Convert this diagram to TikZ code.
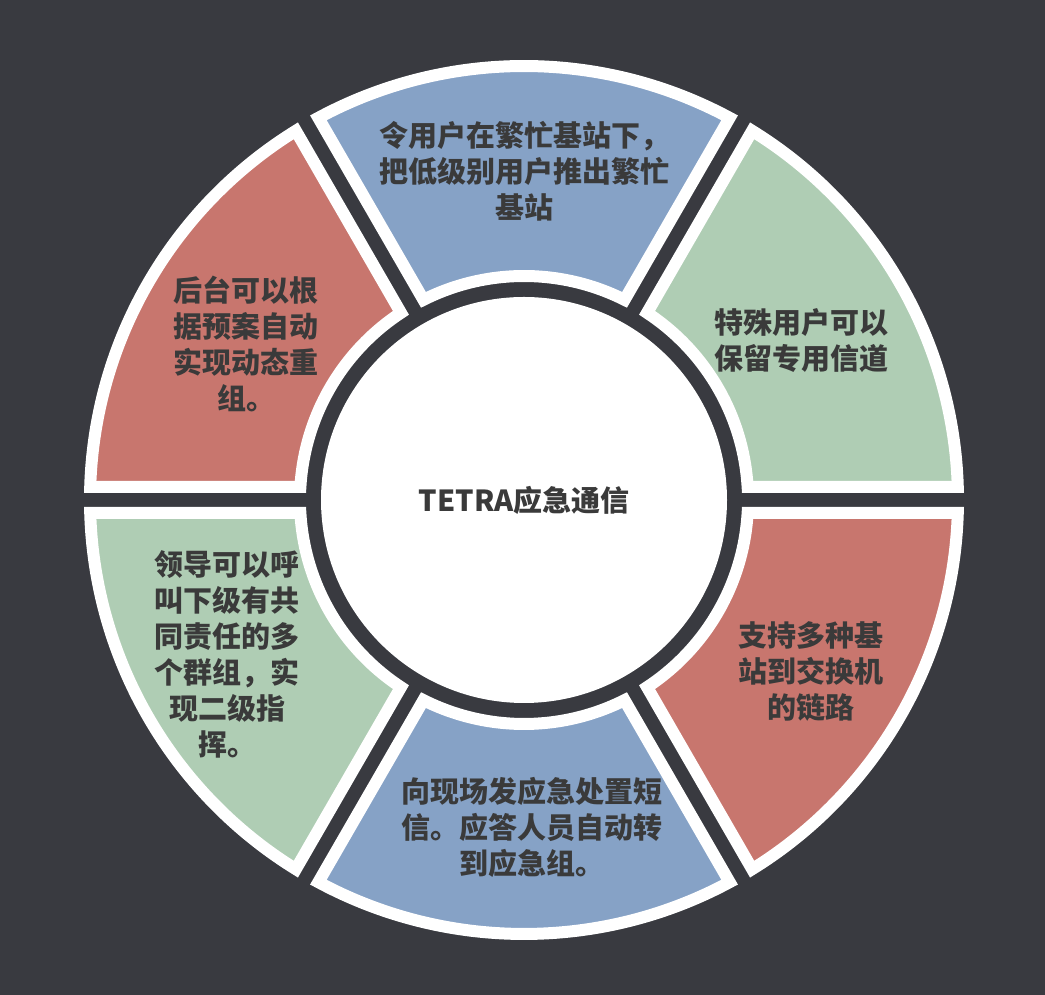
\documentclass[tikz,border=0pt]{standalone}
\usepackage{fontspec}
\setmainfont{Noto Sans CJK SC}
\usepackage{tikz}
\usetikzlibrary{positioning}
\definecolor{bgdark}{HTML}{393A40}
\definecolor{segblue}{HTML}{86A2C6}
\definecolor{segreen}{HTML}{AFCDB4}
\definecolor{segred}{HTML}{C8766E}
\definecolor{txtgray}{HTML}{3A3A3A}
\tikzset{
  seg/.style={draw=white,line width=12pt,line join=miter},
  lbl/.style={font=\fontsize{29}{36}\selectfont\bfseries,text=txtgray,align=center,inner sep=0pt},
  hubnode/.style={circle,fill=white,minimum size=406pt,inner sep=0pt},
}

\begin{document}
\begin{tikzpicture}[x=1pt,y=1pt]
  \fill[bgdark] (0,0) rectangle (1045,995);
  \useasboundingbox (0,0) rectangle (1045,995);
  \coordinate (c) at (524,495);
  \def\ri{224}
  \def\ro{434}
  \def\h{13}
  % ring segments
  \begin{scope}[shift={(c)}]
    \foreach \a/\col in {0/segreen,60/segblue,120/segred,180/segreen,240/segblue,300/segred}{
      \pgfmathsetmacro\dIn{asin(\h/\ri)}
      \pgfmathsetmacro\dOut{asin(\h/\ro)}
      \filldraw[seg,fill=\col] ({\a+\dIn}:\ri)
        arc[start angle=\a+\dIn,end angle=\a+60-\dIn,radius=\ri]
        -- ({\a+60-\dOut}:\ro)
        arc[start angle=\a+60-\dOut,end angle=\a+\dOut,radius=\ro]
        -- cycle;}
  \end{scope}
  % hub
  \node[hubnode,lbl] (hub) at (c) {TETRA应急通信};
  % labels
  \node[lbl] (ltop) at (524,824) {令用户在繁忙基站下，\\把低级别用户推出繁忙\\基站};
  \node[lbl] (lur) at (801,654) {特殊用户可以\\保留专用信道};
  \node[lbl] (llr) at (811,324) {支持多种基\\站到交换机\\的链路};
  \node[lbl] (lbot) at (532,168) {向现场发应急处置短\\信。应答人员自动转\\到应急组。};
  \node[lbl] (lll) at (227,341) {领导可以呼\\叫下级有共\\同责任的多\\个群组，实\\现二级指\\挥。};
  \node[lbl] (lul) at (246,651) {后台可以根\\据预案自动\\实现动态重\\组。};
\end{tikzpicture}
\end{document}
